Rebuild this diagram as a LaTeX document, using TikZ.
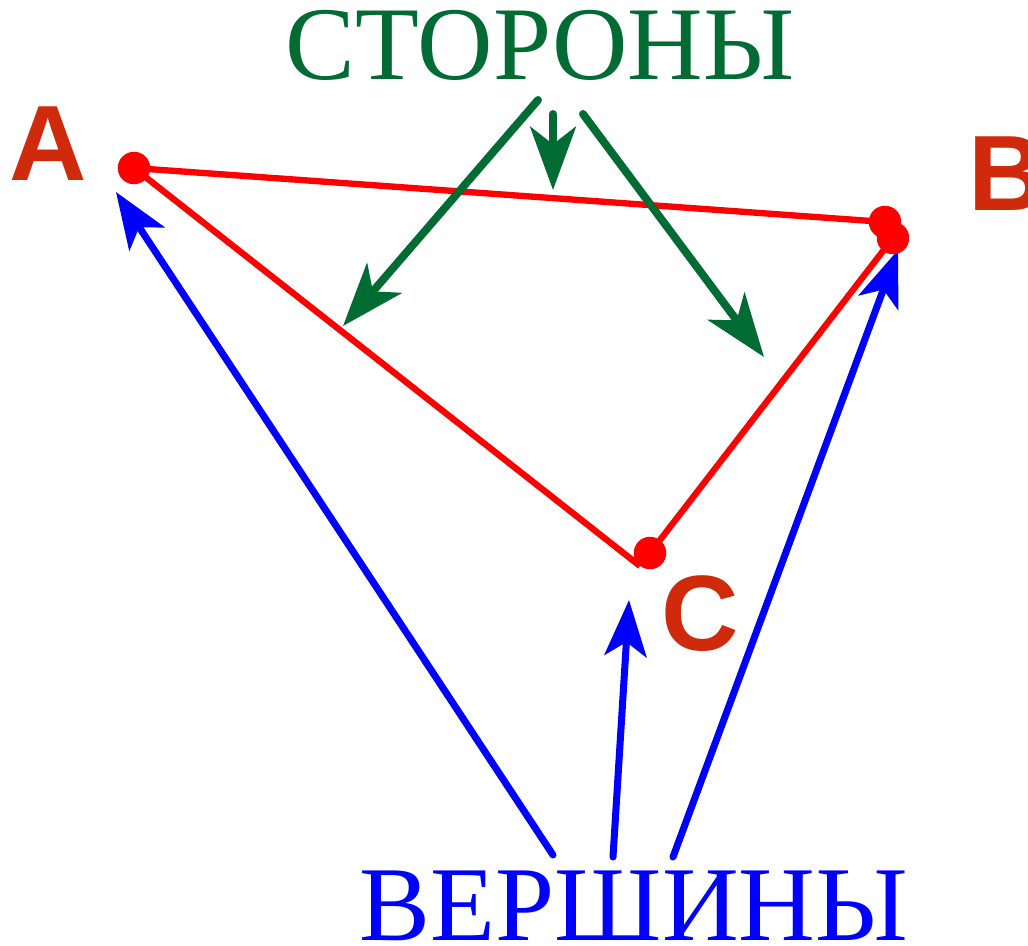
\documentclass[tikz,border=0pt]{standalone}
\usepackage{fontspec}
\setmainfont{Liberation Serif}
\newfontfamily\vertexfont{Liberation Sans}
\usepackage{tikz}
\usetikzlibrary{arrows.meta}
\definecolor{myred}{RGB}{255,0,0}
\definecolor{mylabel}{RGB}{208,42,12}
\definecolor{mygreen}{RGB}{0,108,51}
\definecolor{myblue}{RGB}{0,0,255}
\tikzset{
  edge/.style={myred, line width=3.6pt},
  vdot/.style={circle, fill=myred, inner sep=0pt, minimum size=18.5pt},
  vlabel/.style={anchor=base, inner sep=0pt, text=mylabel,
    font=\vertexfont\bfseries\fontsize{61}{61}\selectfont},
  word/.style={anchor=base, inner sep=0pt},
  sidearrow/.style={-{Stealth[length=36pt, width=26pt, inset=10pt]},
    mygreen, line width=4.5pt, line cap=round},
  vertarrow/.style={-{Stealth[length=32pt, width=24pt, inset=8pt]},
    myblue, line width=4pt, line cap=round}
}
\begin{document}
\begin{tikzpicture}[x=0.02cm, y=-0.02cm]
  \useasboundingbox (0,0) rectangle (1028,946);

  % triangle
  \coordinate (A) at (134,168);
  \coordinate (B) at (885,222);
  \coordinate (Bb) at (893,238);
  \coordinate (C) at (650,553);
  \coordinate (Cc) at (640,566);

  \draw[edge] (A) -- (B);
  \draw[edge] (A) -- (Cc);
  \draw[edge] (C) -- (Bb);

  % labels
  \node[vlabel] (lA) at (48,180) {A};
  \node[vlabel] (lB) at (1007,210) {B};
  \node[vlabel] (lC) at (700,650) {C};
  \node[word, text=mygreen, font=\fontsize{59.5}{60}\selectfont] (sides) at (540,80) {СТОРОНЫ};
  \node[word, text=myblue, font=\fontsize{60.5}{61}\selectfont] (verts) at (634,940) {ВЕРШИНЫ};

  % pointers to the vertices
  \coordinate (v1) at (553,855);
  \coordinate (v2) at (613,857);
  \coordinate (v3) at (673,857);
  \coordinate (pA) at (116,192);
  \coordinate (pC) at (629,600);
  \coordinate (pB) at (898,250);
  \draw[vertarrow] (v1) -- (pA);
  \draw[vertarrow] (v2) -- (pC);
  \draw[vertarrow] (v3) -- (pB);

  \node[vdot] (dA) at (A) {};
  \node[vdot] (dB) at (B) {};
  \node[vdot] (dBb) at (Bb) {};
  \node[vdot] (dC) at (C) {};

  % pointers to the sides
  \coordinate (s1) at (538,100);
  \coordinate (s2) at (553,114);
  \coordinate (s3) at (583,114);
  \coordinate (pAC) at (343,326);
  \coordinate (pAB) at (553,190);
  \coordinate (pBC) at (764,357);
  \draw[sidearrow] (s1) -- (pAC);
  \draw[sidearrow] (s2) -- (pAB);
  \draw[sidearrow] (s3) -- (pBC);
\end{tikzpicture}
\end{document}
